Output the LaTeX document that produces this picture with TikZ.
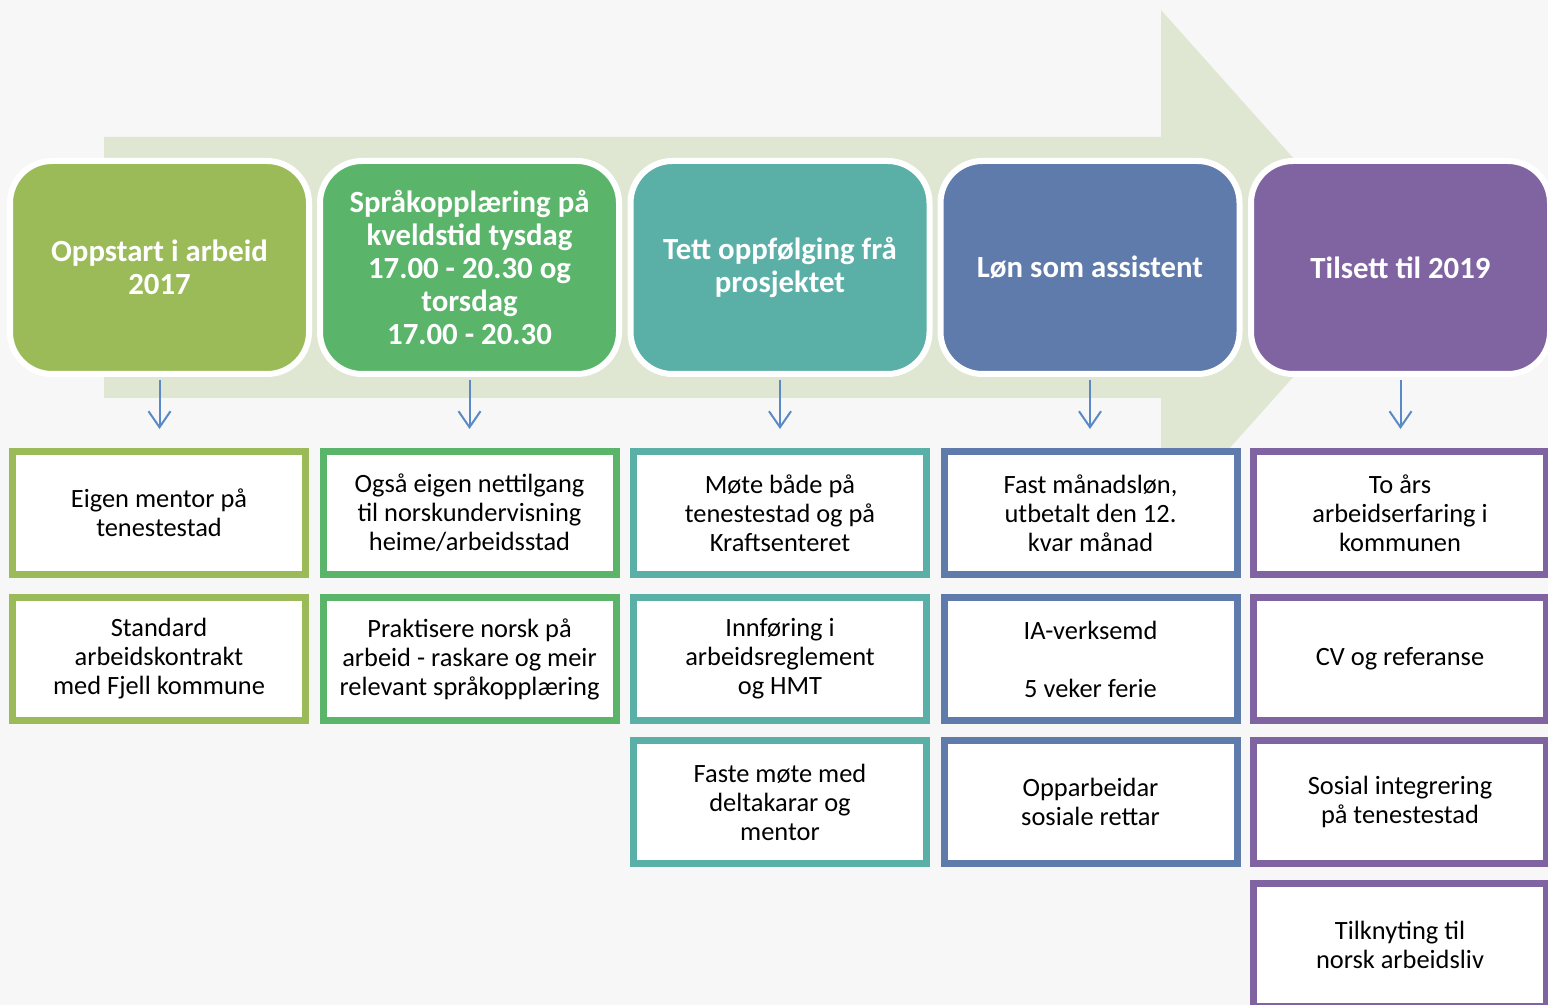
\documentclass[tikz,border=0pt]{standalone}
\usepackage{fontspec}
\setmainfont{Carlito}
\usetikzlibrary{arrows.meta}
\definecolor{bgc}{HTML}{F7F7F7}
\definecolor{bigarr}{HTML}{DFE7D2}
\definecolor{cA}{HTML}{9BBB59}
\definecolor{cB}{HTML}{5AB46A}
\definecolor{cC}{HTML}{5AAFA7}
\definecolor{cD}{HTML}{5F7BAB}
\definecolor{cE}{HTML}{8064A2}
\definecolor{arrc}{HTML}{5A8AC6}
\begin{document}
\begin{tikzpicture}[x=0.5pt,y=-0.5pt,
  head/.style={rectangle, rounded corners=21pt, draw=white, line width=3pt,
    minimum width=149.5pt, minimum height=106.5pt, inner sep=0pt, text=white,
    font=\bfseries\fontsize{15.4}{16.5}\selectfont, align=center},
  item/.style={rectangle, line width=3.5pt, fill=white,
    minimum width=146.5pt, minimum height=61.5pt, inner sep=0pt, text=black,
    font=\fontsize{13.2}{14.5}\selectfont, align=center},
  darr/.style={draw=arrc, line width=1pt, -{Straight Barb[length=8pt,width=11pt]},
    shorten <=1.5pt, shorten >=9.5pt}]
\path[use as bounding box] (0,0) rectangle (1548,1005);
\clip (0,0) rectangle (1548,1005);
\fill[bgc] (0,0) rectangle (1548,1005);
% big background arrow
\fill[bigarr] (104,137) -- (1161,137) -- (1161,10) -- (1391,267.5) -- (1161,525) -- (1161,398) -- (104,398) -- cycle;
% header boxes
\node[head, fill=cA] (h1) at (159.5,267.5) {Oppstart i arbeid\\2017};
\node[head, fill=cB] (h2) at (469.5,267.5) {Språkopplæring på\\kveldstid tysdag\\17.00 - 20.30 og\\torsdag\\17.00 - 20.30};
\node[head, fill=cC] (h3) at (780,267.5) {Tett oppfølging frå\\prosjektet};
\node[head, fill=cD] (h4) at (1090,267.5) {Løn som assistent};
\node[head, fill=cE] (h5) at (1400.5,267.5) {Tilsett til 2019};
% lower boxes
\node[item, draw=cA] (b11) at (159,513) {Eigen mentor på\\tenestestad};
\node[item, draw=cA] (b12) at (159,659) {Standard\\arbeidskontrakt\\med Fjell kommune};
\node[item, draw=cB] (b21) at (469.5,513) {Også eigen nettilgang\\til norskundervisning\\heime/arbeidsstad};
\node[item, draw=cB] (b22) at (469.5,659) {Praktisere norsk på\\arbeid - raskare og meir\\relevant språkopplæring};
\node[item, draw=cC] (b31) at (780,513) {Møte både på\\tenestestad og på\\Kraftsenteret};
\node[item, draw=cC] (b32) at (780,659) {Innføring i\\arbeidsreglement\\og HMT};
\node[item, draw=cC] (b33) at (780,802) {Faste møte med\\deltakarar og\\mentor};
\node[item, draw=cD] (b41) at (1090.5,513) {Fast månadsløn,\\utbetalt den 12.\\kvar månad};
\node[item, draw=cD] (b42) at (1090.5,659) {IA-verksemd\\[14.5pt]5 veker ferie};
\node[item, draw=cD] (b43) at (1090.5,802) {Opparbeidar\\sosiale rettar};
\node[item, draw=cE] (b51) at (1400,513) {To års\\arbeidserfaring i\\kommunen};
\node[item, draw=cE] (b52) at (1400,659) {CV og referanse};
\node[item, draw=cE] (b53) at (1400,802) {Sosial integrering\\på tenestestad};
\node[item, draw=cE] (b54) at (1400,944.5) {Tilknyting til\\norsk arbeidsliv};
% connectors
\draw[darr] (h1.south) -- (h1.south |- b11.north);
\draw[darr] (h2.south) -- (h2.south |- b21.north);
\draw[darr] (h3.south) -- (h3.south |- b31.north);
\draw[darr] (h4.south) -- (h4.south |- b41.north);
\draw[darr] (h5.south) -- (h5.south |- b51.north);
\end{tikzpicture}
\end{document}
